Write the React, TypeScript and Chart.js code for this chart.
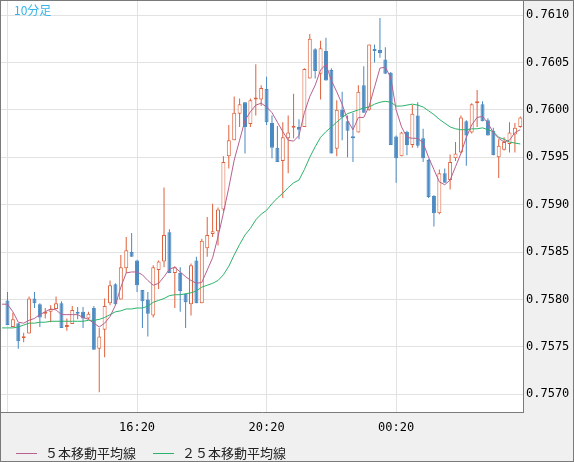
import React, { useEffect, useRef } from 'react';
import { Chart, registerables } from 'chart.js';

Chart.register(...registerables);

// ---- data (10-minute candles, index 0..95) ----
const opens = [
  0.75799, 0.75771, 0.75775, 0.75759, 0.75764, 0.75801, 0.75795, 0.75785, 0.75787, 0.75790,
  0.75796, 0.75771, 0.75774, 0.75786, 0.75787, 0.75780, 0.75791, 0.75748, 0.75768, 0.75796,
  0.75816, 0.75800, 0.75833, 0.75850, 0.75841, 0.75810, 0.75800, 0.75783, 0.75831, 0.75840,
  0.75871, 0.75828, 0.75828, 0.75806, 0.75795, 0.75841, 0.75796, 0.75854, 0.75869, 0.75872,
  0.75895, 0.75951, 0.75968, 0.75996, 0.76008, 0.75985, 0.76011, 0.76011, 0.76022, 0.75986,
  0.75960, 0.75946, 0.75970, 0.75981, 0.75982, 0.75982, 0.76033, 0.76064, 0.76038, 0.76062,
  0.76042, 0.75959, 0.76000, 0.75988, 0.75972, 0.75976, 0.76026, 0.76000, 0.76064, 0.76063,
  0.76053, 0.76039, 0.75972, 0.75951, 0.75977, 0.75963, 0.75994, 0.75970, 0.75947, 0.75909,
  0.75891, 0.75933, 0.75926, 0.75949, 0.75955, 0.75988, 0.75976, 0.76007, 0.76006, 0.75989,
  0.75978, 0.75950, 0.75958, 0.75964, 0.75974, 0.75982,
];
const highs = [
  0.75808, 0.75786, 0.75775, 0.75765, 0.75803, 0.75808, 0.75796, 0.75791, 0.75794, 0.75803,
  0.75798, 0.75780, 0.75793, 0.75792, 0.75792, 0.75787, 0.75793, 0.75770, 0.75801, 0.75820,
  0.75817, 0.75847, 0.75866, 0.75870, 0.75842, 0.75810, 0.75808, 0.75836, 0.75841, 0.75918,
  0.75874, 0.75835, 0.75834, 0.75806, 0.75838, 0.75845, 0.75864, 0.75887, 0.75901, 0.75897,
  0.75951, 0.75984, 0.76014, 0.76012, 0.76008, 0.76012, 0.76048, 0.76026, 0.76035, 0.75994,
  0.75983, 0.75987, 0.75994, 0.76017, 0.75990, 0.76044, 0.76080, 0.76065, 0.76073, 0.76076,
  0.76044, 0.76010, 0.76019, 0.75994, 0.75997, 0.76026, 0.76046, 0.76069, 0.76069, 0.76097,
  0.76066, 0.76040, 0.75973, 0.75977, 0.75978, 0.76005, 0.76008, 0.75980, 0.75948, 0.75910,
  0.75937, 0.75938, 0.75953, 0.75966, 0.75994, 0.75989, 0.76007, 0.76021, 0.76009, 0.75991,
  0.75981, 0.75969, 0.75971, 0.75987, 0.75986, 0.75993,
];
const lows = [
  0.75773, 0.75771, 0.75748, 0.75755, 0.75764, 0.75791, 0.75771, 0.75780, 0.75776, 0.75790,
  0.75770, 0.75767, 0.75774, 0.75779, 0.75770, 0.75779, 0.75747, 0.75702, 0.75739, 0.75794,
  0.75794, 0.75800, 0.75828, 0.75845, 0.75808, 0.75770, 0.75761, 0.75781, 0.75811, 0.75834,
  0.75828, 0.75791, 0.75787, 0.75770, 0.75783, 0.75796, 0.75796, 0.75845, 0.75866, 0.75857,
  0.75893, 0.75938, 0.75968, 0.75982, 0.75954, 0.75982, 0.75994, 0.76004, 0.75984, 0.75949,
  0.75945, 0.75907, 0.75933, 0.75970, 0.75969, 0.75982, 0.76033, 0.76033, 0.76011, 0.76031,
  0.75954, 0.75951, 0.75968, 0.75950, 0.75945, 0.75976, 0.75997, 0.75999, 0.76050, 0.76055,
  0.76038, 0.75963, 0.75923, 0.75951, 0.75952, 0.75960, 0.75960, 0.75945, 0.75907, 0.75877,
  0.75890, 0.75923, 0.75916, 0.75946, 0.75954, 0.75941, 0.75975, 0.75982, 0.75988, 0.75973,
  0.75952, 0.75928, 0.75957, 0.75955, 0.75955, 0.75981,
];
const closes = [
  0.75773, 0.75779, 0.75756, 0.75761, 0.75801, 0.75796, 0.75781, 0.75787, 0.75790, 0.75796,
  0.75770, 0.75773, 0.75789, 0.75785, 0.75780, 0.75785, 0.75747, 0.75761, 0.75793, 0.75815,
  0.75795, 0.75834, 0.75852, 0.75845, 0.75815, 0.75798, 0.75785, 0.75834, 0.75840, 0.75868,
  0.75828, 0.75834, 0.75809, 0.75797, 0.75836, 0.75796, 0.75862, 0.75868, 0.75872, 0.75895,
  0.75945, 0.75968, 0.75997, 0.76006, 0.75982, 0.76010, 0.76012, 0.76023, 0.75987, 0.75960,
  0.75945, 0.75971, 0.75976, 0.75982, 0.75979, 0.76043, 0.76075, 0.76041, 0.76065, 0.76031,
  0.75954, 0.76000, 0.75992, 0.75978, 0.75970, 0.76019, 0.75997, 0.76069, 0.76062, 0.76060,
  0.76038, 0.75963, 0.75949, 0.75976, 0.75963, 0.75996, 0.75962, 0.75949, 0.75908, 0.75891,
  0.75933, 0.75923, 0.75945, 0.75954, 0.75992, 0.75973, 0.76006, 0.76009, 0.75988, 0.75973,
  0.75952, 0.75962, 0.75966, 0.75976, 0.75981, 0.75992,
];

// moving averages, first value belongs to candle index -1 (just left of the first candle)
const maFirstIndex = -1;
const ma5 = [
  0.75795,
  0.75795, 0.75787, 0.75776, 0.75775, 0.75778, 0.75780, 0.75784, 0.75787, 0.75790, 0.75789,
  0.75784, 0.75784, 0.75784, 0.75784, 0.75781, 0.75779, 0.75775, 0.75771, 0.75775, 0.75782,
  0.75794, 0.75813, 0.75828, 0.75829, 0.75829, 0.75826, 0.75820, 0.75815, 0.75817, 0.75824,
  0.75832, 0.75834, 0.75829, 0.75824, 0.75820, 0.75817, 0.75818, 0.75831, 0.75844, 0.75866,
  0.75891, 0.75918, 0.75947, 0.75968, 0.75989, 0.75998, 0.76005, 0.76007, 0.76003, 0.75997,
  0.75987, 0.75977, 0.75968, 0.75967, 0.75973, 0.75997, 0.76014, 0.76026, 0.76042, 0.76048,
  0.76031, 0.76019, 0.76006, 0.75989, 0.75979, 0.75992, 0.75992, 0.76004, 0.76024, 0.76044,
  0.76045, 0.76034, 0.76000, 0.75982, 0.75971, 0.75970, 0.75970, 0.75965, 0.75950, 0.75937,
  0.75924, 0.75921, 0.75926, 0.75940, 0.75954, 0.75971, 0.75984, 0.75992, 0.75993, 0.75986,
  0.75976, 0.75970, 0.75966, 0.75968, 0.75976, 0.75979,
];
const ma25 = [
  0.75770,
  0.75770, 0.75770, 0.75771, 0.75773, 0.75775, 0.75775, 0.75776, 0.75776, 0.75777, 0.75777,
  0.75777, 0.75777, 0.75777, 0.75777, 0.75777, 0.75778, 0.75778, 0.75779, 0.75781, 0.75784,
  0.75787, 0.75788, 0.75790, 0.75790, 0.75791, 0.75791, 0.75793, 0.75797, 0.75799, 0.75801,
  0.75804, 0.75805, 0.75805, 0.75806, 0.75807, 0.75809, 0.75813, 0.75815, 0.75817, 0.75820,
  0.75826, 0.75835, 0.75847, 0.75858, 0.75868, 0.75875, 0.75884, 0.75890, 0.75894, 0.75901,
  0.75907, 0.75912, 0.75918, 0.75923, 0.75926, 0.75937, 0.75950, 0.75961, 0.75971, 0.75977,
  0.75982, 0.75987, 0.75992, 0.75996, 0.75998, 0.76000, 0.76002, 0.76003, 0.76006, 0.76008,
  0.76009, 0.76008, 0.76004, 0.76004, 0.76005, 0.76006, 0.76005, 0.76003, 0.75999, 0.75995,
  0.75990, 0.75986, 0.75982, 0.75980, 0.75979, 0.75979, 0.75980, 0.75980, 0.75981, 0.75979,
  0.75977, 0.75971, 0.75969, 0.75966, 0.75965, 0.75964,
];

// time-axis labels at candle indices (index 0 = 12:20, not printed)
const timeTickIndices = [0, 24, 48, 72];
const timeTickLabels = ['', '16:20', '20:20', '00:20'];

const priceMin = 0.756813;
const priceMax = 0.761148;
const priceStep = 0.0005;
const indexMin = -1.2;
const indexMax = 95.5;

const legendLabels = ['５本移動平均線', '２５本移動平均線'];
const periodLabel = '10分足';

const RED = '#de613b';
const BLUE = '#4a89c1';
const MA5_COLOR = '#b8608f';
const MA25_COLOR = '#2db26b';
const GRID = '#e2e2e2';
const FRAME = '#7a7a7a';

export default function App() {
  const ref = useRef<HTMLCanvasElement>(null);

  useEffect(() => {
    document.body.style.margin = '0';
    const canvas = ref.current;
    if (!canvas) return;
    const up = closes.map((c, i) => c >= opens[i]);

    const bgPlugin = {
      id: 'bg',
      beforeDraw(chart: any) {
        const { ctx, chartArea } = chart;
        ctx.save();
        ctx.fillStyle = '#f0f0f0';
        ctx.fillRect(0, 0, chart.width, chart.height);
        ctx.fillStyle = '#ffffff';
        ctx.fillRect(chartArea.left, chartArea.top, chartArea.right - chartArea.left, chartArea.bottom - chartArea.top);
        ctx.restore();
      },
      afterDraw(chart: any) {
        const { ctx } = chart;
        ctx.save();
        ctx.strokeStyle = FRAME;
        ctx.lineWidth = 1;
        ctx.strokeRect(0.5, 0.5, chart.width - 1, chart.height - 1);
        ctx.restore();
      },
    };

    const chart = new Chart(canvas, {
      type: 'bar',
      data: {
        datasets: [
          {
            type: 'line',
            label: legendLabels[0],
            data: ma5.map((v, i) => ({ x: i + maFirstIndex, y: v })),
            borderColor: MA5_COLOR,
            borderWidth: 1,
            pointRadius: 0,
            tension: 0,
            order: 0,
          } as any,
          {
            type: 'line',
            label: legendLabels[1],
            data: ma25.map((v, i) => ({ x: i + maFirstIndex, y: v })),
            borderColor: MA25_COLOR,
            borderWidth: 1,
            pointRadius: 0,
            tension: 0,
            order: 0,
          } as any,
          {
            type: 'bar',
            label: 'body',
            data: opens.map((o, i) => ({ x: i, y: [Math.min(o, closes[i]), Math.max(o, closes[i])] })),
            backgroundColor: (c: any) => (up[c.dataIndex] ? '#ffffff' : BLUE),
            borderColor: (c: any) => (up[c.dataIndex] ? RED : BLUE),
            borderWidth: 1,
            borderSkipped: false,
            barThickness: 4,
            minBarLength: 2,
            inflateAmount: 0,
            grouped: false,
            order: 1,
          } as any,
          {
            type: 'bar',
            label: 'wick',
            data: highs.map((h, i) => ({ x: i, y: [lows[i], h] })),
            backgroundColor: (c: any) => (up[c.dataIndex] ? RED : BLUE),
            borderWidth: 0,
            barThickness: 1,
            inflateAmount: 0,
            grouped: false,
            order: 2,
          } as any,
        ],
      },
      options: {
        animation: false,
        responsive: false,
        devicePixelRatio: 1,
        events: [],
        layout: { padding: { left: 1, top: 1, right: 0, bottom: 30 } },
        plugins: { legend: { display: false }, tooltip: { enabled: false } },
        scales: {
          x: {
            type: 'linear',
            position: 'bottom',
            min: indexMin,
            max: indexMax,
            offset: false,
            afterFit: (s: any) => {
              s.height = 20;
              s.paddingLeft = 0;
              s.paddingRight = 0;
            },
            grid: { color: GRID, drawTicks: false, offset: false },
            border: { display: true, color: FRAME },
            ticks: {
              stepSize: 24,
              includeBounds: false,
              autoSkip: false,
              maxRotation: 0,
              padding: 9,
              color: '#000',
              font: { family: 'DejaVu Sans Mono', size: 12 },
              callback: (v: any) => {
                const k = timeTickIndices.indexOf(Math.round(Number(v)));
                return k >= 0 ? timeTickLabels[k] : '';
              },
            },
          },
          y: {
            type: 'linear',
            position: 'right',
            min: priceMin,
            max: priceMax,
            afterFit: (s: any) => {
              s.width = 51;
              s.paddingTop = 0;
              s.paddingBottom = 0;
            },
            grid: { color: GRID, drawTicks: false },
            border: { display: true, color: FRAME },
            ticks: {
              stepSize: priceStep,
              includeBounds: false,
              padding: 3,
              color: '#000',
              font: { family: 'DejaVu Sans Mono', size: 12 },
              callback: (v: any) => Number(v).toFixed(4),
            },
          },
        },
      } as any,
      plugins: [bgPlugin],
    });
    return () => chart.destroy();
  }, []);

  const legendText: React.CSSProperties = {
    position: 'absolute',
    top: 445,
    fontFamily: '"Noto Sans CJK JP", sans-serif',
    fontSize: 13,
    lineHeight: '16px',
    color: '#222',
    whiteSpace: 'nowrap',
  };
  const legendLine = (left: number, color: string): React.CSSProperties => ({
    position: 'absolute',
    left,
    top: 453,
    width: 21,
    height: 1,
    background: color,
  });

  return (
    <div style={{ position: 'relative', width: 574, height: 462, overflow: 'hidden', background: '#f0f0f0' }}>
      <canvas ref={ref} width={574} height={462} style={{ position: 'absolute', left: 0, top: 0, width: 574, height: 462 }} />
      <div
        style={{
          position: 'absolute',
          left: 14,
          top: 3,
          fontFamily: '"Noto Sans CJK JP", sans-serif',
          fontSize: 12,
          lineHeight: '14px',
          color: '#35b5e8',
        }}
      >
        {periodLabel}
      </div>
      <div style={legendLine(16, MA5_COLOR)} />
      <div style={{ ...legendText, left: 45 }}>{legendLabels[0]}</div>
      <div style={legendLine(153, MA25_COLOR)} />
      <div style={{ ...legendText, left: 182 }}>{legendLabels[1]}</div>
    </div>
  );
}
